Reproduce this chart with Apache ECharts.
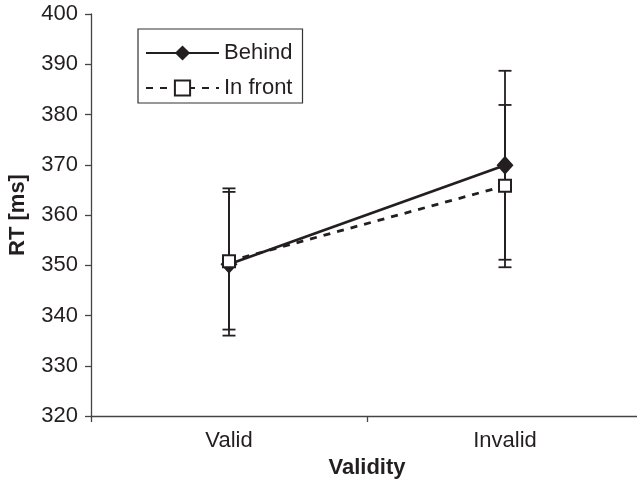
<!DOCTYPE html>
<html lang="en">
<head>
    <meta charset="UTF-8">
    <title>RT by validity</title>
    <script src="https://cdn.jsdelivr.net/npm/echarts@6/dist/echarts.min.js"></script>
    <style>
        html, body { margin: 0; padding: 0; background: #fff; }
        #chart { width: 637px; height: 487px; }
    </style>
</head>
<body>
<div id="chart"></div>

<script>
    // data
    var categories = ['Valid', 'Invalid'];
    var behind = [350.2, 369.9];
    var behindLow = [336.0, 351.1];
    var behindHigh = [364.6, 388.7];
    var inFront = [350.8, 365.8];
    var inFrontLow = [337.2, 349.6];
    var inFrontHigh = [365.3, 381.9];
    var yTicks = [320, 330, 340, 350, 360, 370, 380, 390, 400];

    var ink = '#231f20';
    var font = 'Liberation Sans, Arial, sans-serif';

    // error bar rows: [categoryIndex, low, high]
    function barRows(low, high) {
        var rows = [];
        for (var i = 0; i < categories.length; i++) {
            rows.push([i, low[i], high[i]]);
        }
        return rows;
    }

    function renderBar(params, api) {
        var x = api.value(0);
        var lo = api.coord([x, api.value(1)]);
        var hi = api.coord([x, api.value(2)]);
        var cap = 6.5;
        var style = { stroke: ink, lineWidth: 1.8 };
        return {
            type: 'group',
            children: [
                { type: 'line', shape: { x1: hi[0], y1: hi[1], x2: lo[0], y2: lo[1] }, style: style },
                { type: 'line', shape: { x1: hi[0] - cap, y1: hi[1], x2: hi[0] + cap, y2: hi[1] }, style: style },
                { type: 'line', shape: { x1: lo[0] - cap, y1: lo[1], x2: lo[0] + cap, y2: lo[1] }, style: style }
            ]
        };
    }

    var chartDom = document.getElementById('chart');
    var myChart = echarts.init(chartDom);
    var option;

    option = {
        animation: false,
        backgroundColor: '#fff',
        grid: {
            left: 91,
            top: 14,
            width: 552,
            height: 402,
            outerBoundsMode: 'none',
            containLabel: false
        },
        legend: {
            orient: 'vertical',
            left: 138,
            top: 29,
            padding: [13, 10, 4, 7],
            itemGap: 13,
            itemWidth: 73,
            itemHeight: 19,
            borderColor: '#333',
            borderWidth: 1.2,
            borderRadius: 0,
            textStyle: { fontFamily: font, fontSize: 22, color: ink },
            data: ['Behind', 'In front']
        },
        xAxis: {
            type: 'category',
            data: categories,
            name: 'Validity',
            nameLocation: 'middle',
            nameGap: 39,
            nameTextStyle: { fontFamily: font, fontSize: 22, fontWeight: 'bold', color: ink },
            axisLine: { show: true, lineStyle: { color: '#444', width: 1.3 } },
            axisTick: { show: true, interval: 0, alignWithLabel: false, length: 6, lineStyle: { color: '#444', width: 1.3 } },
            axisLabel: { interval: 0, fontFamily: font, fontSize: 22, color: ink, margin: 14 },
            splitLine: { show: false }
        },
        yAxis: {
            type: 'value',
            min: yTicks[0],
            max: yTicks[yTicks.length - 1],
            interval: 10,
            name: 'RT [ms]',
            nameLocation: 'middle',
            nameGap: 62,
            nameTextStyle: { fontFamily: font, fontSize: 22, fontWeight: 'bold', color: ink },
            axisLine: { show: true, lineStyle: { color: '#444', width: 1.3 } },
            axisTick: { show: true, length: 6, lineStyle: { color: '#444', width: 1.3 } },
            axisLabel: { fontFamily: font, fontSize: 22, color: ink, margin: 13 },
            splitLine: { show: false }
        },
        series: [
            {
                name: 'Behind bars',
                type: 'custom',
                renderItem: renderBar,
                data: barRows(behindLow, behindHigh),
                z: 1
            },
            {
                name: 'In front bars',
                type: 'custom',
                renderItem: renderBar,
                data: barRows(inFrontLow, inFrontHigh),
                z: 1
            },
            {
                name: 'In front',
                type: 'line',
                data: inFront,
                symbol: 'rect',
                symbolSize: 12,
                lineStyle: { color: ink, width: 2.8, type: [7, 7] },
                itemStyle: { color: '#fff', borderColor: ink, borderWidth: 2 },
                z: 3
            },
            {
                name: 'Behind',
                type: 'line',
                data: behind,
                symbol: 'diamond',
                symbolSize: [17, 19],
                lineStyle: { color: ink, width: 2.8 },
                itemStyle: { color: ink },
                z: 2
            }
        ]
    };

    option && myChart.setOption(option);
</script>
</body>
</html>
